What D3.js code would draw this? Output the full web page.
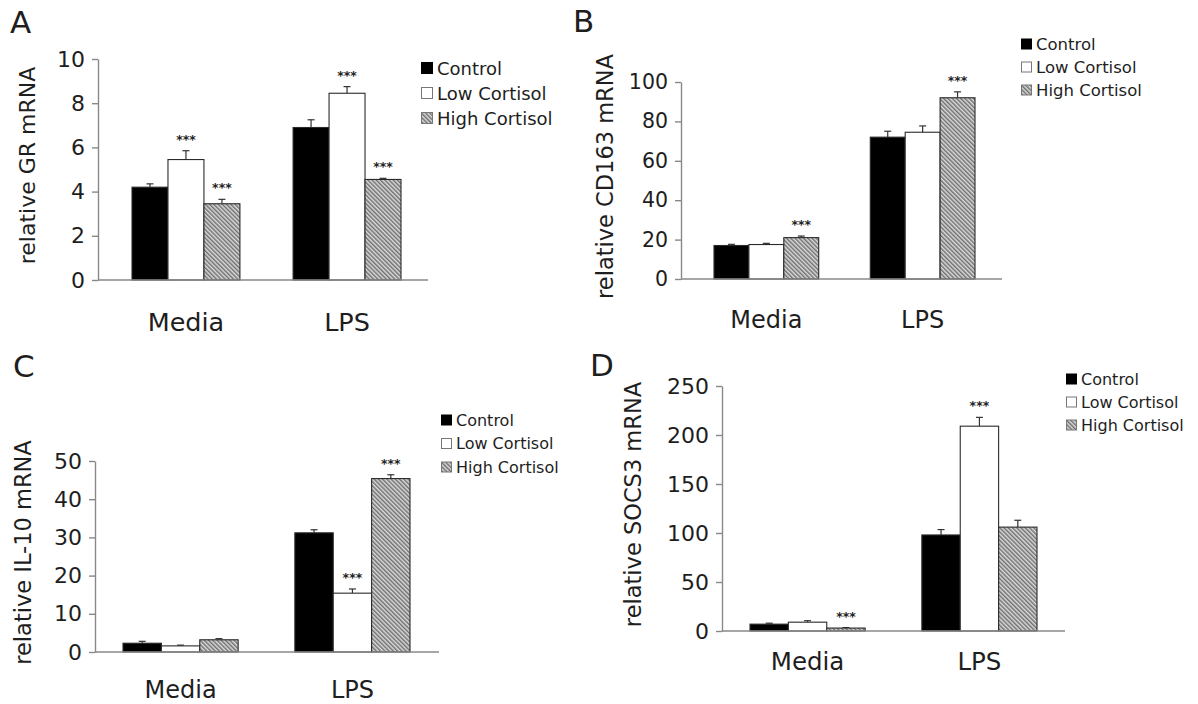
<!DOCTYPE html>
<html>
<head>
<meta charset="utf-8">
<script src="https://cdn.jsdelivr.net/npm/d3@7"></script>
<style>
  body { margin: 0; background: #fff; }
  text { font-family: "DejaVu Sans", Verdana, sans-serif; fill: #1e1e1e; }
</style>
</head>
<body>
<svg id="fig" width="1198" height="704"></svg>
<script>
const groups = ["Media", "LPS"]
const treatments = ["Control", "Low Cortisol", "High Cortisol"]

// A - GR
const grMean = [[4.2, 5.45, 3.45], [6.9, 8.45, 4.55]]
const grErr = [[0.15, 0.4, 0.2], [0.35, 0.3, 0.05]]
const grStars = [[0, 1, 1], [0, 1, 1]]
const grTicks = [0, 2, 4, 6, 8, 10]

// B - CD163
const cd163Mean = [[17, 17.5, 21], [72, 74.5, 92]]
const cd163Err = [[0.6, 0.6, 0.8], [3, 3.2, 3]]
const cd163Stars = [[0, 0, 1], [0, 0, 1]]
const cd163Ticks = [0, 20, 40, 60, 80, 100]

// C - IL-10
const il10Mean = [[2.3, 1.6, 3.2], [31.2, 15.4, 45.4]]
const il10Err = [[0.5, 0.2, 0.3], [0.8, 1.1, 1]]
const il10Stars = [[0, 0, 0], [0, 1, 1]]
const il10Ticks = [0, 10, 20, 30, 40, 50]

// D - SOCS3
const socs3Mean = [[7, 9, 3], [98, 209, 106]]
const socs3Err = [[1, 1.5, 0.5], [5.5, 9, 7]]
const socs3Stars = [[0, 0, 1], [0, 1, 0]]
const socs3Ticks = [0, 50, 100, 150, 200, 250]

const svg = d3.select("#fig")

// hatch for high cortisol
const defs = svg.append("defs")
const pat = defs.append("pattern")
    .attr("id", "hatch")
    .attr("patternUnits", "userSpaceOnUse")
    .attr("width", 3).attr("height", 3)
    .attr("patternTransform", "rotate(-45)")
pat.append("rect").attr("width", 3).attr("height", 3).attr("fill", "#dcdcdc")
pat.append("line").attr("x1", 0.75).attr("y1", 0).attr("x2", 0.75).attr("y2", 3)
    .attr("stroke", "#707070").attr("stroke-width", 1.5)

const fills = d3.scaleOrdinal().domain(treatments).range(["#000", "#fff", "url(#hatch)"])
const axisColor = "#888"

const panels = [
    {letter: "A", lx: 10, ly: 33, ylabel: "relative GR mRNA", lblX: 27,
     mean: grMean, err: grErr, stars: grStars, ticks: grTicks,
     axisX: 98, axisEnd: 428, y0: 280, yTop: 59, bars: [132, 401], catY: 331, catSize: 25.5,
     tickSize: 22, labelSize: 22, legX: 421, legY: 68, legGap: 25, legFont: 18, legBox: 11},
    {letter: "B", lx: 573, ly: 32, ylabel: "relative CD163 mRNA", lblX: 605,
     mean: cd163Mean, err: cd163Err, stars: cd163Stars, ticks: cd163Ticks,
     axisX: 681, axisEnd: 1002, y0: 279, yTop: 82, bars: [714, 975], catY: 328, catSize: 24,
     tickSize: 20.5, labelSize: 22.5, legX: 1021, legY: 44, legGap: 23, legFont: 16.5, legBox: 10},
    {letter: "C", lx: 13, ly: 377, ylabel: "relative IL-10 mRNA", lblX: 23,
     mean: il10Mean, err: il10Err, stars: il10Stars, ticks: il10Ticks,
     axisX: 95, axisEnd: 439, y0: 652, yTop: 461, bars: [123, 410], catY: 698, catSize: 24,
     tickSize: 22, labelSize: 22.5, legX: 441, legY: 420, legGap: 23.5, legFont: 16, legBox: 10},
    {letter: "D", lx: 590, ly: 376, ylabel: "relative SOCS3 mRNA", lblX: 633,
     mean: socs3Mean, err: socs3Err, stars: socs3Stars, ticks: socs3Ticks,
     axisX: 722, axisEnd: 1065, y0: 631, yTop: 386, bars: [750, 1037], catY: 670, catSize: 24.5,
     tickSize: 22, labelSize: 22.5, legX: 1066, legY: 379, legGap: 23, legFont: 16, legBox: 10}
]

panels.forEach(function (p) {
    const g = svg.append("g")

    let yMax = d3.max(p.ticks)
    let y = d3.scaleLinear().domain([0, yMax]).range([p.y0, p.yTop])
    let x = d3.scaleBand().domain(groups).range(p.bars).paddingInner(0.33).paddingOuter(0)
    let xInner = d3.scaleBand().domain(treatments).range([0, x.bandwidth()])

    // panel letter
    g.append("text").attr("x", p.lx).attr("y", p.ly)
        .style("font-size", "31px").text(p.letter)

    // y axis
    let yAxis = d3.axisLeft(y).tickValues(p.ticks).tickSize(6).tickSizeOuter(0).tickPadding(7)
    let ya = g.append("g").attr("transform", "translate(" + p.axisX + ",0)").call(yAxis)
    ya.select(".domain").attr("stroke", axisColor).attr("stroke-width", 1.4)
    ya.selectAll(".tick line").attr("stroke", axisColor).attr("stroke-width", 1.4)
    ya.selectAll(".tick text")
        .attr("fill", "#1e1e1e")
        .style("font-size", p.tickSize + "px")
        .style("font-family", '"DejaVu Sans", Verdana, sans-serif')

    // y label
    let mid = (p.y0 + p.yTop) / 2 - 4
    g.append("text")
        .attr("transform", "translate(" + p.lblX + "," + mid + ") rotate(-90)")
        .attr("text-anchor", "middle")
        .attr("dominant-baseline", "central")
        .style("font-size", p.labelSize + "px")
        .text(p.ylabel)

    // bars
    let rows = []
    groups.forEach(function (grp, gi) {
        treatments.forEach(function (t, ti) {
            rows.push({grp: grp, t: t, v: p.mean[gi][ti], e: p.err[gi][ti], s: p.stars[gi][ti]})
        })
    })

    let bx = (d) => x(d.grp) + xInner(d.t)
    let bw = xInner.bandwidth()

    // error bars (drawn first so the bar outline covers the stem)
    let eb = g.append("g").selectAll("g").data(rows).enter().append("g")
    eb.append("line")
        .attr("x1", (d) => bx(d) + bw / 2).attr("x2", (d) => bx(d) + bw / 2)
        .attr("y1", (d) => y(d.v)).attr("y2", (d) => y(d.v + d.e))
        .attr("stroke", "#333").attr("stroke-width", 1.2)
    eb.append("line")
        .attr("x1", (d) => bx(d) + bw / 2 - 3.5).attr("x2", (d) => bx(d) + bw / 2 + 3.5)
        .attr("y1", (d) => y(d.v + d.e)).attr("y2", (d) => y(d.v + d.e))
        .attr("stroke", "#333").attr("stroke-width", 1.2)

    g.append("g").selectAll("rect").data(rows).enter().append("rect")
        .attr("x", bx)
        .attr("y", (d) => y(d.v))
        .attr("width", bw)
        .attr("height", (d) => p.y0 - y(d.v))
        .attr("fill", (d) => fills(d.t))
        .attr("stroke", "#2a2a2a")
        .attr("stroke-width", 1.1)

    // significance stars
    g.append("g").selectAll("text").data(rows.filter((d) => d.s)).enter().append("text")
        .attr("x", (d) => bx(d) + bw / 2)
        .attr("y", (d) => y(d.v + d.e) - 7)
        .attr("text-anchor", "middle")
        .style("font-size", "12.5px")
        .style("font-weight", "bold")
        .style("fill", "#222")
        .text("***")

    // x axis baseline
    g.append("line")
        .attr("x1", p.axisX).attr("x2", p.axisEnd)
        .attr("y1", p.y0).attr("y2", p.y0)
        .attr("stroke", axisColor).attr("stroke-width", 1.4)

    // category labels
    g.append("g").selectAll("text").data(groups).enter().append("text")
        .attr("x", (d) => x(d) + x.bandwidth() / 2)
        .attr("y", p.catY)
        .attr("text-anchor", "middle")
        .style("font-size", p.catSize + "px")
        .text((d) => d)

    // legend
    let leg = g.append("g").selectAll("g").data(treatments).enter().append("g")
        .attr("transform", (d, i) => "translate(" + p.legX + "," + (p.legY + i * p.legGap) + ")")
    leg.append("rect")
        .attr("x", 0.5).attr("y", -p.legBox / 2)
        .attr("width", p.legBox).attr("height", p.legBox)
        .attr("fill", (d) => fills(d))
        .attr("stroke", (d, i) => i == 0 ? "#000" : "#777")
        .attr("stroke-width", 1)
    leg.append("text")
        .attr("x", p.legBox + 5)
        .attr("dominant-baseline", "central")
        .style("font-size", p.legFont + "px")
        .text((d) => d)
})
</script>
</body>
</html>
